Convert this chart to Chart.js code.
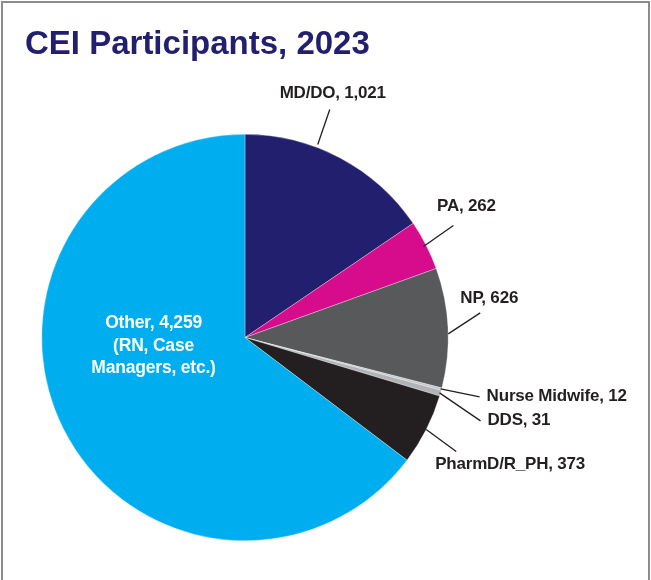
<!DOCTYPE html>
<html>
<head>
<meta charset="utf-8">
<script src="https://cdn.jsdelivr.net/npm/chart.js@4.4.0/dist/chart.umd.min.js"></script>
<style>
  body { margin: 0; background: #fff; }
  #wrap { position: relative; width: 651px; height: 580px; overflow: hidden; }
  #frame { position: absolute; left: 1px; top: 1px; width: 645px; height: 620px;
           border: 2px solid #8c8c8c; border-bottom: none; pointer-events: none; }
</style>
</head>
<body>
<div id="wrap">
  <canvas id="pie_chart" width="651" height="580"></canvas>
  <div id="frame"></div>
</div>
<script>
// chart data
var categories = ["MD/DO", "PA", "NP", "Nurse Midwife", "DDS", "PharmD/R_PH", "Other"];
var participants = [1021, 262, 626, 12, 31, 373, 4259];
var otherNote = ["(RN, Case", "Managers, etc.)"];
var sliceColors = ["#221f6f", "#d60c8c", "#58595b", "#c4c6c8", "#b1b3b6", "#231f20", "#00aeef"];

var navy = "#221f6f";
var ink = "#231f20";

// where each callout goes: at = position inside slice (0..1), dr = radius offset,
// (dx,dy) = leader line, (tx,ty) = text offset from line end
var callouts = [
  { at: 0.37, dr: 3,  dx: 12, dy: -35, tx: 3,   ty: -16, align: "center" },
  { at: 0.5,  dr: -3, dx: 30, dy: -21, tx: 13,  ty: -19, align: "center" },
  { at: 0.55, dr: 0,  dx: 32, dy: -21, tx: 9,   ty: -15, align: "center" },
  { at: 0.5,  dr: -1, dx: 39, dy: 8,   tx: 7,   ty: -1,  align: "left" },
  { at: 0.5,  dr: -1, dx: 41, dy: 28,  tx: 7,   ty: -1,  align: "left" },
  { at: 0.5,  dr: 0,  dx: 30, dy: 22,  tx: -21, ty: 13,  align: "left" },
  null
];

function fmt(v) { return v.toLocaleString("en-US"); }

var calloutPlugin = {
  id: "callouts",
  afterDatasetsDraw: function (chart) {
    var ctx = chart.ctx;
    var arcs = chart.getDatasetMeta(0).data;
    ctx.save();
    ctx.textBaseline = "middle";
    arcs.forEach(function (arc, i) {
      var text = categories[i] + ", " + fmt(participants[i]);
      var c = callouts[i];
      if (!c) {
        // label inside the big slice
        ctx.font = "bold 17.5px 'Liberation Sans', Arial, sans-serif";
        ctx.letterSpacing = "-0.2px";
        ctx.fillStyle = "#ffffff";
        ctx.textAlign = "center";
        var lines = [text].concat(otherNote);
        var lx = arc.x - arc.outerRadius * 0.45;
        var ly = arc.y - 14;
        lines.forEach(function (t, k) { ctx.fillText(t, lx, ly + k * 22.5); });
        return;
      }
      ctx.font = "bold 17px 'Liberation Sans', Arial, sans-serif";
      ctx.letterSpacing = "-0.2px";
      var a = arc.startAngle + (arc.endAngle - arc.startAngle) * c.at;
      var r = arc.outerRadius + c.dr;
      var sx = arc.x + Math.cos(a) * r;
      var sy = arc.y + Math.sin(a) * r;
      var ex = sx + c.dx, ey = sy + c.dy;
      ctx.strokeStyle = ink;
      ctx.lineWidth = 1.3;
      ctx.beginPath();
      ctx.moveTo(sx, sy);
      ctx.lineTo(ex, ey);
      ctx.stroke();
      ctx.fillStyle = ink;
      ctx.textAlign = c.align;
      ctx.fillText(text, ex + c.tx, ey + c.ty);
    });
    ctx.restore();
  }
};

var chart = new Chart(document.getElementById("pie_chart"), {
  type: "pie",
  data: {
    labels: categories,
    datasets: [{
      data: participants,
      backgroundColor: sliceColors,
      borderColor: "rgba(255,255,255,0.6)",
      borderWidth: 0.5
    }]
  },
  options: {
    responsive: false,
    animation: false,
    layout: { padding: { left: 25, right: 186, top: 0, bottom: 39 } },
    plugins: {
      legend: { display: false },
      tooltip: { enabled: false },
      title: {
        display: true,
        text: "CEI Participants, 2023",
        align: "start",
        color: navy,
        font: { family: "'Liberation Sans', Arial, sans-serif", size: 33, weight: "bold" },
        padding: { top: 25, bottom: 69.4 }
      }
    }
  },
  plugins: [calloutPlugin]
});
</script>
</body>
</html>
